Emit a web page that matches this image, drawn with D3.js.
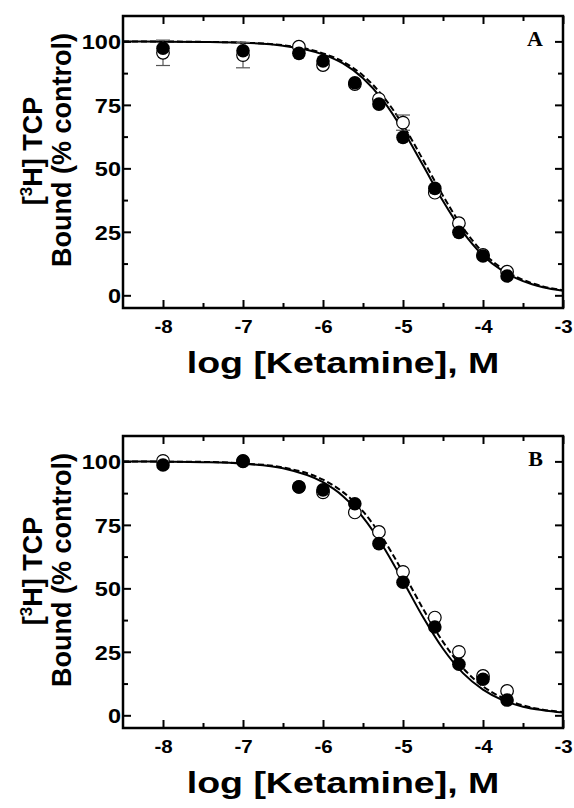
<!DOCTYPE html>
<html>
<head>
<meta charset="utf-8">
<script src="https://cdn.jsdelivr.net/npm/d3@7"></script>
<style>
    html, body { margin: 0; padding: 0; background: #fff; }
    svg { display: block; }
</style>
</head>
<body>
<div id="chart"></div>
<script>
'use strict';

// log [Ketamine], M
const logConc = [-8, -7, -6.301, -6, -5.602, -5.301, -5, -4.602, -4.301, -4, -3.699];

// panel A
const openA    = [95.5, 94.6, 97.9, 90.7, 83.2, 77.3, 68.0, 40.4, 28.4, 15.9, 9.3];
const openAErr = [5, 5, 0, 0, 0, 0, 3, 0, 0, 0, 0];
const filledA  = [97.3, 96.3, 95.3, 92.3, 83.7, 75.3, 62.2, 42.1, 24.8, 15.5, 7.6];

// panel B
const openB    = [100.2, 100.0, 90.0, 87.8, 79.9, 72.2, 56.5, 38.5, 25.0, 15.5, 9.6];
const openBErr = [0, 0, 0, 0, 0, 0, 0, 0, 0, 0, 0];
const filledB  = [98.6, 100.2, 89.9, 88.8, 83.3, 67.6, 52.4, 34.8, 20.1, 14.2, 6.0];

// fitted curves
const curveX  = [-8.5, -8, -7.5, -7, -6.5, -6, -5.75, -5.5, -5.25, -5, -4.75, -4.5, -4.25, -4, -3.75, -3.5, -3.25, -3];
const solidA  = [100, 99.9, 99.8, 99.5, 98.3, 94.9, 91.3, 85.5, 76.8, 65.0, 51.2, 37.1, 24.9, 15.7, 9.5, 5.6, 3.2, 1.8];
const dashedA = [100, 99.95, 99.8, 99.5, 98.5, 95.3, 92.0, 86.6, 78.4, 67.1, 53.4, 39.2, 26.6, 16.9, 10.3, 6.1, 3.5, 2.0];
const solidB  = [100, 99.9, 99.7, 99.1, 97.3, 91.8, 86.3, 78.0, 66.6, 52.9, 38.7, 26.2, 16.6, 10.1, 5.9, 3.4, 2.0, 1.1];
const dashedB = [100, 99.9, 99.8, 99.2, 97.6, 92.8, 87.9, 80.3, 69.6, 56.3, 42.0, 28.9, 18.6, 11.4, 6.8, 3.9, 2.2, 1.3];

const xTicks = [-8, -7, -6, -5, -4, -3];
const xMinor = [-7.5, -6.5, -5.5, -4.5, -3.5];
const yTicks = [0, 25, 50, 75, 100];
const yMinor = [12.5, 37.5, 62.5, 87.5];

const panels = [
    { label: "A", top: 16,  open: openA, openErr: openAErr, filled: filledA, solid: solidA, dashed: dashedA },
    { label: "B", top: 436, open: openB, openErr: openBErr, filled: filledB, solid: solidB, dashed: dashedB }
];

const W = 574, H = 808;
const left = 123, plotW = 440, plotH = 292;

const svg = d3.select("#chart").append("svg")
    .attr("width", W)
    .attr("height", H);

const x = d3.scaleLinear().domain([-8.5, -3]).range([0, plotW]);
const y = d3.scaleLinear().domain([-5, 110]).range([plotH, 0]);

// widen glyphs a bit, the original lettering is broader than Arial
function stretch(sel, k) {
    sel.attr("lengthAdjust", "spacingAndGlyphs")
        .attr("textLength", function () { return this.getComputedTextLength() * k; });
}

function styleTicks(g) {
    g.select(".domain").remove();
    g.selectAll(".tick line").attr("stroke", "#000").attr("stroke-width", 2);
}

panels.forEach(p => {
    const g = svg.append("g")
        .attr("transform", `translate(${left},${p.top})`);

    // major + minor ticks on all four sides, pointing inwards
    const bottom = g.append("g").attr("transform", `translate(0,${plotH})`)
        .call(d3.axisBottom(x).tickValues(xTicks).tickSizeInner(-8).tickSizeOuter(0).tickPadding(12).tickFormat(d3.format("d")));
    styleTicks(bottom);
    bottom.selectAll("text")
        .attr("font-family", "Liberation Sans, Arial, sans-serif")
        .attr("font-weight", "bold")
        .attr("font-size", 19)
        .attr("fill", "#000")
        .text(d => d < 0 ? "-" + Math.abs(d) : d)
        .call(stretch, 1.08);

    g.append("g").attr("transform", `translate(0,${plotH})`)
        .call(d3.axisBottom(x).tickValues(xMinor).tickSizeInner(-5).tickSizeOuter(0).tickFormat(""))
        .call(styleTicks);

    g.append("g")
        .call(d3.axisTop(x).tickValues(xTicks).tickSizeInner(-8).tickSizeOuter(0).tickFormat(""))
        .call(styleTicks);
    g.append("g")
        .call(d3.axisTop(x).tickValues(xMinor).tickSizeInner(-5).tickSizeOuter(0).tickFormat(""))
        .call(styleTicks);

    const leftAx = g.append("g")
        .call(d3.axisLeft(y).tickValues(yTicks).tickSizeInner(-8).tickSizeOuter(0).tickPadding(2));
    styleTicks(leftAx);
    leftAx.selectAll("text")
        .attr("font-family", "Liberation Sans, Arial, sans-serif")
        .attr("font-weight", "bold")
        .attr("font-size", 21)
        .attr("fill", "#000")
        .attr("dy", "0.36em")
        .call(stretch, 1.12);

    g.append("g")
        .call(d3.axisLeft(y).tickValues(yMinor).tickSizeInner(-5).tickSizeOuter(0).tickFormat(""))
        .call(styleTicks);

    g.append("g").attr("transform", `translate(${plotW},0)`)
        .call(d3.axisRight(y).tickValues(yTicks).tickSizeInner(-8).tickSizeOuter(0).tickFormat(""))
        .call(styleTicks);
    g.append("g").attr("transform", `translate(${plotW},0)`)
        .call(d3.axisRight(y).tickValues(yMinor).tickSizeInner(-5).tickSizeOuter(0).tickFormat(""))
        .call(styleTicks);

    // frame
    g.append("rect")
        .attr("width", plotW)
        .attr("height", plotH)
        .attr("fill", "none")
        .attr("stroke", "#000")
        .attr("stroke-width", 2.5);

    // fitted curves
    const line = d3.line()
        .x(d => x(d[0]))
        .y(d => y(d[1]))
        .curve(d3.curveMonotoneX);

    g.append("path")
        .datum(d3.zip(curveX, p.dashed))
        .attr("d", line)
        .attr("fill", "none")
        .attr("stroke", "#000")
        .attr("stroke-width", 2)
        .attr("stroke-dasharray", "6 3");

    g.append("path")
        .datum(d3.zip(curveX, p.solid))
        .attr("d", line)
        .attr("fill", "none")
        .attr("stroke", "#000")
        .attr("stroke-width", 2);

    // error bars of the open series
    const errData = logConc.map((c, i) => ({ c, v: p.open[i], e: p.openErr[i] })).filter(d => d.e > 0);
    const err = g.append("g").attr("stroke", "#555").attr("stroke-width", 1.2);
    err.selectAll(".bar").data(errData).join("line")
        .attr("x1", d => x(d.c)).attr("x2", d => x(d.c))
        .attr("y1", d => y(d.v - d.e)).attr("y2", d => y(d.v + d.e));
    err.selectAll(".capHi").data(errData).join("line").attr("class", "capHi")
        .attr("x1", d => x(d.c) - 7).attr("x2", d => x(d.c) + 7)
        .attr("y1", d => y(d.v + d.e)).attr("y2", d => y(d.v + d.e));
    err.selectAll(".capLo").data(errData).join("line").attr("class", "capLo")
        .attr("x1", d => x(d.c) - 7).attr("x2", d => x(d.c) + 7)
        .attr("y1", d => y(d.v - d.e)).attr("y2", d => y(d.v - d.e));

    // open first, filled on top
    g.append("g").selectAll("circle")
        .data(d3.zip(logConc, p.open))
        .join("circle")
        .attr("cx", d => x(d[0]))
        .attr("cy", d => y(d[1]))
        .attr("r", 6.3)
        .attr("fill", "#fff")
        .attr("stroke", "#000")
        .attr("stroke-width", 1.2);

    g.append("g").selectAll("circle")
        .data(d3.zip(logConc, p.filled))
        .join("circle")
        .attr("cx", d => x(d[0]))
        .attr("cy", d => y(d[1]))
        .attr("r", 6.8)
        .attr("fill", "#000");

    // panel letter
    g.append("text")
        .attr("x", plotW - 20)
        .attr("y", 30)
        .attr("text-anchor", "end")
        .attr("font-family", "Liberation Serif, Times New Roman, serif")
        .attr("font-weight", "bold")
        .attr("font-size", 22)
        .text(p.label);

    // x title
    g.append("text")
        .attr("x", plotW / 2)
        .attr("y", plotH + 65)
        .attr("text-anchor", "middle")
        .attr("font-family", "Liberation Sans, Arial, sans-serif")
        .attr("font-weight", "bold")
        .attr("font-size", 30)
        .text("log [Ketamine], M")
        .call(stretch, 1.25);

    // y title, two lines
    const yt = svg.append("g")
        .attr("font-family", "Liberation Sans, Arial, sans-serif")
        .attr("font-weight", "bold")
        .attr("font-size", 27)
        .attr("text-anchor", "middle");

    const l1 = yt.append("text")
        .attr("transform", `translate(42,${p.top + 135}) rotate(-90)`);
    l1.append("tspan").text("[");
    l1.append("tspan").attr("font-size", 17).attr("dy", -10).text("3");
    l1.append("tspan").attr("dy", 10).text("H] TCP");

    yt.append("text")
        .attr("transform", `translate(71,${p.top + 134}) rotate(-90)`)
        .text("Bound (% control)");
});
</script>
</body>
</html>
